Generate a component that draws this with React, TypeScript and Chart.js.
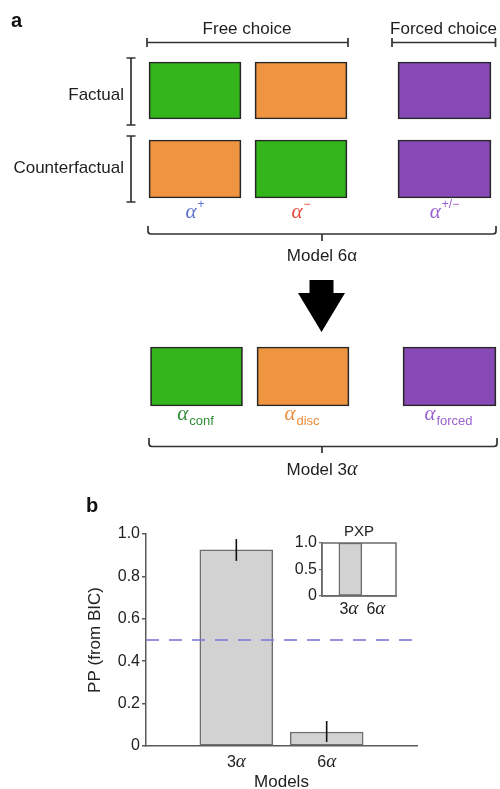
import { useEffect, useRef } from 'react';
import { Chart, registerables } from 'chart.js';

Chart.register(...registerables);

const SANS = '"Liberation Sans", Arial, Helvetica, sans-serif';
const SERIF = '"Liberation Serif", "DejaVu Serif", serif';

// ---------------- data ----------------
const groupLabels = ['Free choice', 'Forced choice'];
const rowLabels = ['Factual', 'Counterfactual'];
const GREEN = '#34b51c';
const ORANGE = '#ef9541';
const PURPLE = '#8649b5';
const model6Cells = [
  [GREEN, ORANGE, PURPLE],
  [ORANGE, GREEN, PURPLE],
];
const model6Scripts = ['+', '\u2212', '+/\u2212'];
const model6ScriptColors = ['#5b70cf', '#e8463c', '#9b5ccf'];
const model3Cells = [GREEN, ORANGE, PURPLE];
const model3Scripts = ['conf', 'disc', 'forced'];
const model3ScriptColors = ['#2e8c34', '#ef8c38', '#9a62cf'];
const modelNames = ['Model 6\u03b1', 'Model 3\u03b1'];

const models = ['3\u03b1', '6\u03b1'];
const ppMean = [0.925, 0.066];
const ppLow = [0.873, 0.019];
const ppHigh = [0.976, 0.118];
const chanceLevel = 0.5;
const pxpValues = [1.0, 0.0];

// ---------------- diagram layout (px) ----------------
const D = {
  colX: [195, 301, 444.5],
  col3X: [196.5, 303, 449.5],
  cellW: 92,
  rows: [
    [62, 119],
    [140, 198],
  ],
  row3: [347, 406],
};

const INK = '#333';

function drawAlpha(
  ctx: CanvasRenderingContext2D,
  cx: number,
  baseline: number,
  script: string,
  kind: 'sup' | 'sub',
  color: string
) {
  const aFont = `italic 21px ${SERIF}`;
  const sFont = kind === 'sup' ? `12px ${SANS}` : `13px ${SANS}`;
  ctx.font = aFont;
  const aw = ctx.measureText('\u03b1').width;
  ctx.font = sFont;
  const sw = ctx.measureText(script).width;
  const gap = 1;
  const x0 = cx - (aw + gap + sw) / 2;
  ctx.fillStyle = color;
  ctx.textAlign = 'left';
  ctx.textBaseline = 'alphabetic';
  ctx.font = aFont;
  ctx.fillText('\u03b1', x0, baseline);
  ctx.font = sFont;
  ctx.fillText(script, x0 + aw + gap, kind === 'sup' ? baseline - 10 : baseline + 5);
}

function drawMixed(
  ctx: CanvasRenderingContext2D,
  text: string,
  cx: number,
  baseline: number,
  size: number,
  italicAlpha: boolean,
  color = '#222'
) {
  const head = text.slice(0, -1);
  const tail = text.slice(-1);
  const hFont = `${size}px ${SANS}`;
  const tFont = italicAlpha ? `italic ${size + 3}px ${SERIF}` : `${size}px ${SANS}`;
  ctx.font = hFont;
  const hw = ctx.measureText(head).width;
  ctx.font = tFont;
  const tw = ctx.measureText(tail).width;
  const x0 = cx - (hw + tw) / 2;
  ctx.fillStyle = color;
  ctx.textAlign = 'left';
  ctx.textBaseline = 'alphabetic';
  ctx.font = hFont;
  ctx.fillText(head, x0, baseline);
  ctx.font = tFont;
  ctx.fillText(tail, x0 + hw, baseline);
}

function brace(
  ctx: CanvasRenderingContext2D,
  x1: number,
  x2: number,
  yTop: number,
  yMid: number,
  cx: number,
  yTip: number
) {
  ctx.beginPath();
  ctx.moveTo(x1, yTop);
  ctx.lineTo(x1, yMid - 3);
  ctx.quadraticCurveTo(x1, yMid, x1 + 3, yMid);
  ctx.lineTo(x2 - 3, yMid);
  ctx.quadraticCurveTo(x2, yMid, x2, yMid - 3);
  ctx.lineTo(x2, yTop);
  ctx.moveTo(cx, yMid);
  ctx.lineTo(cx, yTip);
  ctx.stroke();
}

const diagramPlugin = {
  id: 'diagramDecor',
  afterDatasetsDraw(chart: any) {
    const ctx: CanvasRenderingContext2D = chart.ctx;
    const X = (v: number) => chart.scales.x.getPixelForValue(v);
    const Y = (v: number) => chart.scales.y.getPixelForValue(v);
    ctx.save();
    // panel letter
    ctx.fillStyle = '#111';
    ctx.font = `bold 20px ${SANS}`;
    ctx.textAlign = 'left';
    ctx.textBaseline = 'alphabetic';
    ctx.fillText('a', X(11), Y(27));

    ctx.strokeStyle = INK;
    ctx.lineWidth = 1.7;
    ctx.lineCap = 'butt';

    // group brackets
    const groups = [
      [147, 348, 247],
      [392, 495.5, 443.5],
    ];
    groups.forEach((g, i) => {
      ctx.beginPath();
      ctx.moveTo(X(g[0]), Y(42.5));
      ctx.lineTo(X(g[1]), Y(42.5));
      ctx.moveTo(X(g[0]), Y(38));
      ctx.lineTo(X(g[0]), Y(47));
      ctx.moveTo(X(g[1]), Y(38));
      ctx.lineTo(X(g[1]), Y(47));
      ctx.stroke();
      ctx.fillStyle = '#1e1e1e';
      ctx.font = `17px ${SANS}`;
      ctx.textAlign = 'center';
      ctx.fillText(groupLabels[i], X(g[2]), Y(34));
    });

    // row brackets + labels
    const rowBr = [
      [58, 125, 100],
      [136, 202, 173],
    ];
    rowBr.forEach((r, i) => {
      ctx.beginPath();
      ctx.moveTo(X(131), Y(r[0]));
      ctx.lineTo(X(131), Y(r[1]));
      ctx.moveTo(X(126.5), Y(r[0]));
      ctx.lineTo(X(135.5), Y(r[0]));
      ctx.moveTo(X(126.5), Y(r[1]));
      ctx.lineTo(X(135.5), Y(r[1]));
      ctx.stroke();
      ctx.fillStyle = '#1e1e1e';
      ctx.font = `17px ${SANS}`;
      ctx.textAlign = 'right';
      ctx.fillText(rowLabels[i], X(124), Y(r[2]));
    });

    // model 6 parameters
    model6Scripts.forEach((s, i) => {
      drawAlpha(ctx, X(D.colX[i]), Y(218), s, 'sup', model6ScriptColors[i]);
    });
    ctx.strokeStyle = INK;
    ctx.lineWidth = 1.7;
    brace(ctx, X(148), X(496), Y(226), Y(234), X(322), Y(241));
    drawMixed(ctx, modelNames[0], X(322), Y(261), 17, false, '#1e1e1e');

    // arrow
    ctx.fillStyle = '#000';
    ctx.beginPath();
    ctx.moveTo(X(309.5), Y(280));
    ctx.lineTo(X(333.5), Y(280));
    ctx.lineTo(X(333.5), Y(293));
    ctx.lineTo(X(345), Y(293));
    ctx.lineTo(X(321.5), Y(332));
    ctx.lineTo(X(298), Y(293));
    ctx.lineTo(X(309.5), Y(293));
    ctx.closePath();
    ctx.fill();

    // model 3 parameters
    model3Scripts.forEach((s, i) => {
      drawAlpha(ctx, X(D.col3X[i] - 1), Y(420), s, 'sub', model3ScriptColors[i]);
    });
    ctx.strokeStyle = INK;
    ctx.lineWidth = 1.7;
    brace(ctx, X(149), X(497), Y(438), Y(446.5), X(322), Y(453));
    drawMixed(ctx, modelNames[1], X(322), Y(475), 17, true, '#1e1e1e');
    ctx.restore();
  },
};

const mainPlugin = {
  id: 'mainDecor',
  afterDatasetsDraw(chart: any) {
    const ctx: CanvasRenderingContext2D = chart.ctx;
    const xs = chart.scales.x;
    const ys = chart.scales.y;
    const area = chart.chartArea;
    ctx.save();
    // chance line
    ctx.strokeStyle = 'rgba(130,128,220,0.85)';
    ctx.lineWidth = 2;
    ctx.setLineDash([13, 10]);
    ctx.beginPath();
    ctx.moveTo(area.left, ys.getPixelForValue(chanceLevel));
    ctx.lineTo(area.right, ys.getPixelForValue(chanceLevel));
    ctx.stroke();
    ctx.setLineDash([]);
    // error bars
    ctx.strokeStyle = '#111';
    ctx.lineWidth = 1.6;
    models.forEach((_, i) => {
      const x = xs.getPixelForValue(i);
      ctx.beginPath();
      ctx.moveTo(x, ys.getPixelForValue(ppLow[i]));
      ctx.lineTo(x, ys.getPixelForValue(ppHigh[i]));
      ctx.stroke();
    });
    // x labels
    models.forEach((m, i) => {
      drawMixed(ctx, m, xs.getPixelForValue(i), area.bottom + 21, 16, true);
    });
    // panel letter
    ctx.fillStyle = '#111';
    ctx.font = `bold 20px ${SANS}`;
    ctx.textAlign = 'left';
    ctx.textBaseline = 'alphabetic';
    ctx.fillText('b', 86, 32);
    ctx.restore();
  },
};

const insetPlugin = {
  id: 'insetDecor',
  afterDatasetsDraw(chart: any) {
    const ctx: CanvasRenderingContext2D = chart.ctx;
    const xs = chart.scales.x;
    const area = chart.chartArea;
    ctx.save();
    ctx.strokeStyle = '#6a6a6a';
    ctx.lineWidth = 1.5;
    ctx.strokeRect(area.left, area.top, area.right - area.left, area.bottom - area.top);
    models.forEach((m, i) => {
      drawMixed(ctx, m, xs.getPixelForValue(i) - 1.5, area.bottom + 18, 16, true);
    });
    ctx.restore();
  },
};

export default function App() {
  const diagRef = useRef<HTMLCanvasElement>(null);
  const mainRef = useRef<HTMLCanvasElement>(null);
  const insetRef = useRef<HTMLCanvasElement>(null);

  useEffect(() => {
    const charts: Chart[] = [];

    // ---- diagram (panel a) ----
    const diagDatasets = [0, 1, 2].map((c) => ({
      data: [
        { x: D.colX[c], y: [D.rows[0][0], D.rows[0][1]] },
        { x: D.colX[c], y: [D.rows[1][0], D.rows[1][1]] },
        { x: D.col3X[c], y: [D.row3[0], D.row3[1]] },
      ],
      backgroundColor: [model6Cells[0][c], model6Cells[1][c], model3Cells[c]],
      borderColor: '#262626',
      borderWidth: 1.7,
      borderSkipped: false,
      barThickness: c === 2 ? 93 : D.cellW,
      grouped: false,
    }));
    charts.push(
      new Chart(diagRef.current!, {
        type: 'bar',
        data: { datasets: diagDatasets as any },
        options: {
          responsive: false,
          animation: false,
          events: [],
          layout: { padding: 0 },
          plugins: { legend: { display: false }, tooltip: { enabled: false } },
          scales: {
            x: { type: 'linear', min: 0, max: 500, offset: false, display: false },
            y: { type: 'linear', min: 0, max: 480, reverse: true, display: false },
          },
        },
        plugins: [diagramPlugin],
      })
    );

    // ---- main bar chart (panel b) ----
    charts.push(
      new Chart(mainRef.current!, {
        type: 'bar',
        data: {
          datasets: [
            {
              data: ppMean.map((v, i) => ({ x: i, y: v })),
              backgroundColor: '#d3d2d2',
              borderColor: '#6e6e6e',
              borderWidth: 1.5,
              borderSkipped: false,
              barThickness: 73,
            },
          ],
        },
        options: {
          responsive: false,
          animation: false,
          events: [],
          layout: { padding: { left: 81, right: 83, top: 54, bottom: 3 } },
          plugins: { legend: { display: false }, tooltip: { enabled: false } },
          scales: {
            x: {
              type: 'linear',
              min: -1,
              max: 2,
              offset: false,
              ticks: { display: false, includeBounds: false, stepSize: 1 },
              grid: { display: false },
              border: { display: true, color: '#5a5a5a', width: 1.5 },
              title: {
                display: true,
                text: 'Models',
                color: '#222',
                font: { family: SANS, size: 17 },
                padding: { top: 4, bottom: 4 },
              },
              afterFit: (s: any) => {
                s.height = 51;
              },
            },
            y: {
              type: 'linear',
              min: 0,
              max: 1,
              ticks: {
                stepSize: 0.2,
                color: '#222',
                padding: 2,
                font: { family: SANS, size: 16 },
                callback: (v: any) => (Number(v) === 0 ? '0' : Number(v).toFixed(1)),
              },
              grid: {
                drawOnChartArea: false,
                drawTicks: true,
                tickLength: 4,
                color: '#5a5a5a',
                lineWidth: 1.5,
              },
              border: { display: true, color: '#5a5a5a', width: 1.5 },
              title: {
                display: true,
                text: 'PP (from BIC)',
                color: '#222',
                font: { family: SANS, size: 17 },
                padding: { top: 4, bottom: 4 },
              },
              afterFit: (s: any) => {
                s.width = 65;
              },
            },
          },
        },
        plugins: [mainPlugin],
      })
    );

    // ---- inset PXP ----
    charts.push(
      new Chart(insetRef.current!, {
        type: 'bar',
        data: {
          datasets: [
            {
              data: pxpValues.map((v, i) => ({ x: i, y: v })),
              backgroundColor: '#d3d2d2',
              borderColor: '#6e6e6e',
              borderWidth: 1.5,
              borderSkipped: false,
              barThickness: 23,
            },
          ],
        },
        options: {
          responsive: false,
          animation: false,
          events: [],
          layout: { padding: { left: 0, right: 16, top: 0, bottom: 0 } },
          plugins: {
            legend: { display: false },
            tooltip: { enabled: false },
            title: {
              display: true,
              text: 'PXP',
              fullSize: false,
              color: '#222',
              font: { family: SANS, size: 15, weight: 'normal' },
              padding: { top: 8, bottom: 2 },
            },
          },
          scales: {
            x: {
              type: 'linear',
              min: -1.05,
              max: 1.69,
              offset: false,
              ticks: { display: false, includeBounds: false, stepSize: 1 },
              grid: { display: false },
              border: { display: true, color: '#6a6a6a', width: 1.5 },
              afterFit: (s: any) => {
                s.height = 29;
              },
            },
            y: {
              type: 'linear',
              min: 0,
              max: 1,
              ticks: {
                stepSize: 0.5,
                color: '#222',
                padding: 2,
                font: { family: SANS, size: 16 },
                callback: (v: any) => (Number(v) === 0 ? '0' : Number(v).toFixed(1)),
              },
              grid: {
                drawOnChartArea: false,
                drawTicks: true,
                tickLength: 3,
                color: '#6a6a6a',
                lineWidth: 1.2,
              },
              border: { display: true, color: '#6a6a6a', width: 1.5 },
              afterFit: (s: any) => {
                s.width = 60;
              },
            },
          },
        },
        plugins: [insetPlugin],
      })
    );

    return () => {
      charts.forEach((c) => c.destroy());
    };
  }, []);

  return (
    <div
      style={{
        position: 'absolute',
        left: 0,
        top: 0,
        width: 500,
        height: 789,
        overflow: 'hidden',
        background: '#fff',
      }}
    >
      <canvas ref={diagRef} width={500} height={480} style={{ position: 'absolute', left: 0, top: 0 }} />
      <canvas ref={mainRef} width={500} height={320} style={{ position: 'absolute', left: 0, top: 480 }} />
      <canvas ref={insetRef} width={150} height={110} style={{ position: 'absolute', left: 262, top: 515 }} />
    </div>
  );
}
